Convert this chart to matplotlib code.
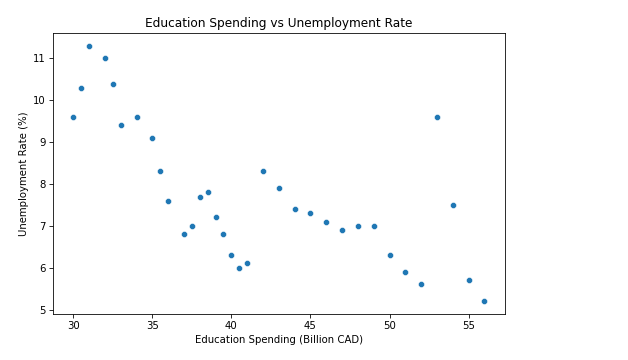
import matplotlib
matplotlib.use("Agg")
import matplotlib.pyplot as plt
import seaborn as sns

spending = [30, 30.5, 31, 32, 32.5, 33, 34, 35, 35.5, 36, 37, 37.5, 38, 38.5,
            39, 39.5, 40, 40.5, 41, 42, 43, 44, 45, 46, 47, 48, 49, 50, 51,
            52, 53, 54, 55, 56]
unemployment = [9.6, 10.3, 11.3, 11.0, 10.4, 9.4, 9.6, 9.1, 8.3, 7.6, 6.8, 7.0,
                7.7, 7.8, 7.2, 6.8, 6.3, 6.0, 6.1, 8.3, 7.9, 7.4, 7.3, 7.1, 6.9,
                7.0, 7.0, 6.3, 5.9, 5.6, 9.6, 7.5, 5.7, 5.2]

dpi = 73
fig = plt.figure(figsize=(628 / dpi, 360 / dpi), dpi=dpi)
ax = fig.add_axes([0.084, 0.128, 0.72, 0.78])
sns.scatterplot(x=spending, y=unemployment, ax=ax)
ax.set_title("Education Spending vs Unemployment Rate")
ax.set_xlabel("Education Spending (Billion CAD)")
ax.set_ylabel("Unemployment Rate (%)")
fig.savefig("out.png", dpi=dpi)
